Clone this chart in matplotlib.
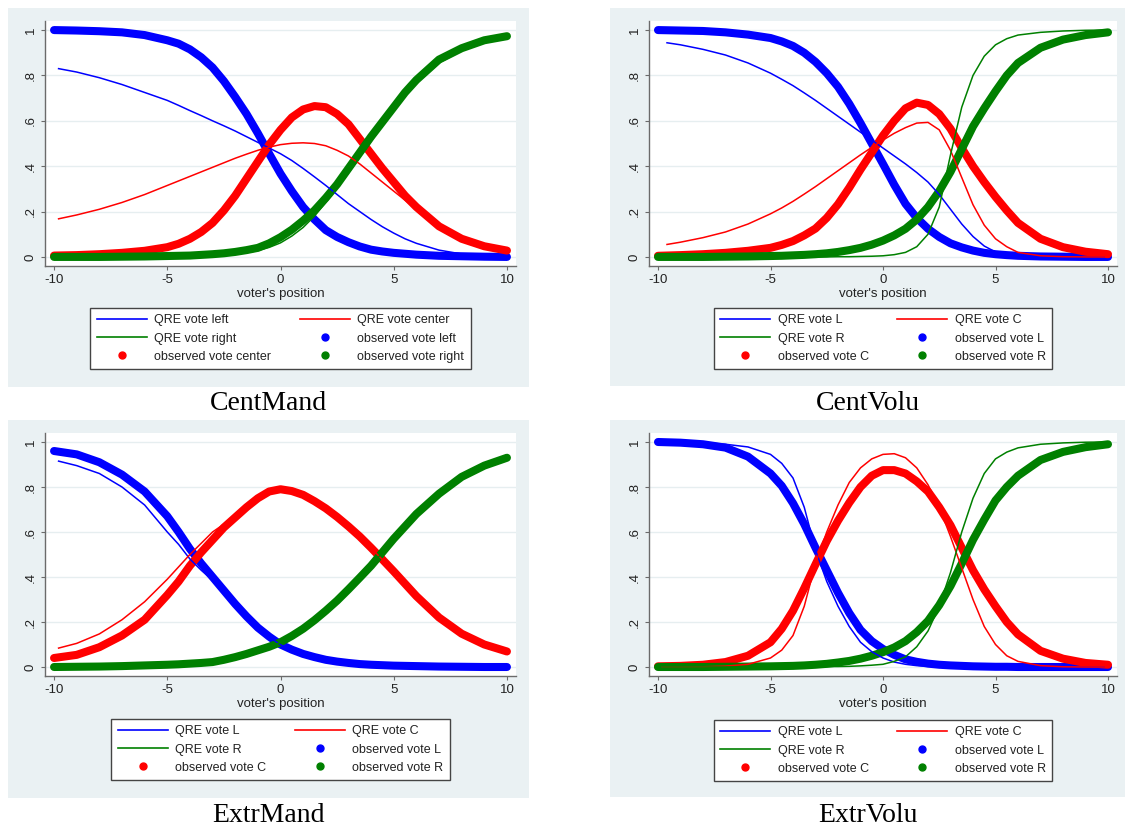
import matplotlib
matplotlib.use("Agg")
import matplotlib.pyplot as plt
from matplotlib.lines import Line2D
from matplotlib.patches import Rectangle

plt.rcParams['font.family'] = ['Liberation Sans', 'DejaVu Sans']

# ---------------- data ----------------
X_OBS = [-10, -9, -8, -7, -6, -5, -4.5, -4, -3.5, -3, -2.5, -2, -1.5, -1, -0.5, 0,
         0.5, 1, 1.5, 2, 2.5, 3, 3.5, 4, 4.5, 5, 5.5, 6, 7, 8, 9, 10]
X_QRE_A = [-9.8, -9, -8, -7, -6, -5, -4.5, -4, -3.5, -3, -2.5, -2, -1.5, -1, -0.5, 0,
           0.5, 1, 1.5, 2, 2.5, 3, 3.5, 4, 4.5, 5, 5.5, 6, 7, 8, 9, 9.8]
X_QRE_B = [-9.6, -9, -8, -7, -6, -5, -4.5, -4, -3.5, -3, -2.5, -2, -1.5, -1, -0.5, 0,
           0.5, 1, 1.5, 2, 2.5, 3, 3.5, 4, 4.5, 5, 5.5, 6, 7, 8, 9, 9.8]

TITLES = ["CentMand", "CentVolu", "ExtrMand", "ExtrVolu"]
LABELS_LONG = ["QRE vote left", "QRE vote center", "QRE vote right",
               "observed vote left", "observed vote center", "observed vote right"]
LABELS_SHORT = ["QRE vote L", "QRE vote C", "QRE vote R",
                "observed vote L", "observed vote C", "observed vote R"]
Y_TICKS = [0, 0.2, 0.4, 0.6, 0.8, 1]
Y_TICK_LABELS = ["0", ".2", ".4", ".6", ".8", "1"]
X_TICKS = [-10, -5, 0, 5, 10]
X_TICK_LABELS = ["-10", "-5", "0", "5", "10"]

# CentMand
CM_OBS_L = [1.0, 0.998, 0.995, 0.99, 0.978, 0.955, 0.94, 0.915, 0.88, 0.835, 0.775, 0.705, 0.63, 0.545, 0.455, 0.367,
            0.29, 0.22, 0.165, 0.118, 0.088, 0.065, 0.046, 0.032, 0.024, 0.018, 0.014, 0.01, 0.005, 0.003, 0.001, 0.0]
CM_OBS_C = [0.006, 0.008, 0.012, 0.018, 0.027, 0.043, 0.058, 0.08, 0.11, 0.15, 0.205, 0.27, 0.345, 0.42, 0.495, 0.56,
            0.615, 0.65, 0.665, 0.66, 0.63, 0.585, 0.52, 0.455, 0.39, 0.33, 0.27, 0.22, 0.135, 0.08, 0.047, 0.028]
CM_OBS_R = [0.0, 0.0, 0.0, 0.001, 0.002, 0.004, 0.005, 0.006, 0.009, 0.012, 0.016, 0.022, 0.03, 0.04, 0.06, 0.087,
            0.12, 0.16, 0.205, 0.26, 0.32, 0.39, 0.46, 0.53, 0.595, 0.66, 0.725, 0.78, 0.87, 0.92, 0.955, 0.973]
CM_QRE_L = [0.83, 0.815, 0.79, 0.76, 0.725, 0.69, 0.668, 0.645, 0.623, 0.6, 0.578, 0.555, 0.53, 0.505, 0.48, 0.455,
            0.425, 0.39, 0.353, 0.315, 0.275, 0.235, 0.2, 0.165, 0.133, 0.105, 0.08, 0.06, 0.03, 0.013, 0.005, 0.002]
CM_QRE_C = [0.168, 0.185, 0.21, 0.24, 0.275, 0.315, 0.335, 0.355, 0.375, 0.395, 0.415, 0.435, 0.453, 0.47, 0.484, 0.495,
            0.501, 0.503, 0.5, 0.49, 0.47, 0.445, 0.41, 0.37, 0.33, 0.29, 0.25, 0.21, 0.14, 0.085, 0.05, 0.03]
CM_QRE_R = [0.0, 0.0, 0.001, 0.002, 0.003, 0.004, 0.005, 0.006, 0.007, 0.008, 0.01, 0.013, 0.019, 0.028, 0.042, 0.062,
            0.092, 0.13, 0.18, 0.24, 0.305, 0.37, 0.44, 0.51, 0.58, 0.645, 0.71, 0.765, 0.855, 0.91, 0.948, 0.968]

# CentVolu
CV_OBS_L = [1.0, 0.998, 0.996, 0.99, 0.98, 0.965, 0.95, 0.93, 0.9, 0.86, 0.81, 0.75, 0.675, 0.59, 0.5, 0.41,
            0.318, 0.234, 0.172, 0.124, 0.088, 0.06, 0.042, 0.028, 0.018, 0.012, 0.008, 0.005, 0.002, 0.001, 0.0, 0.0]
CV_OBS_C = [0.005, 0.008, 0.012, 0.018, 0.027, 0.04, 0.053, 0.07, 0.095, 0.125, 0.172, 0.232, 0.305, 0.385, 0.46, 0.535,
            0.6, 0.655, 0.68, 0.67, 0.63, 0.565, 0.48, 0.4, 0.33, 0.265, 0.205, 0.15, 0.08, 0.043, 0.023, 0.012]
CV_OBS_R = [0.0, 0.0, 0.0, 0.001, 0.002, 0.004, 0.005, 0.007, 0.009, 0.012, 0.016, 0.022, 0.03, 0.04, 0.054, 0.072,
            0.095, 0.124, 0.165, 0.22, 0.29, 0.375, 0.475, 0.575, 0.655, 0.73, 0.8, 0.855, 0.922, 0.958, 0.978, 0.99]
CV_QRE_L = [0.944, 0.935, 0.915, 0.89, 0.855, 0.81, 0.783, 0.755, 0.723, 0.69, 0.655, 0.62, 0.585, 0.55, 0.515, 0.48,
            0.445, 0.41, 0.372, 0.33, 0.275, 0.21, 0.145, 0.09, 0.048, 0.022, 0.012, 0.006, 0.001, 0.0, 0.0, 0.0]
CV_QRE_C = [0.055, 0.065, 0.085, 0.11, 0.145, 0.19, 0.216, 0.245, 0.277, 0.31, 0.345, 0.38, 0.415, 0.45, 0.483, 0.515,
            0.545, 0.57, 0.59, 0.593, 0.56, 0.47, 0.35, 0.23, 0.14, 0.08, 0.045, 0.02, 0.005, 0.001, 0.0, 0.0]
CV_QRE_R = [0.0, 0.0, 0.0, 0.0, 0.0, 0.0, 0.0, 0.0, 0.0, 0.0, 0.0, 0.001, 0.001, 0.002, 0.003, 0.005,
            0.01, 0.02, 0.045, 0.1, 0.22, 0.45, 0.66, 0.8, 0.885, 0.935, 0.962, 0.978, 0.99, 0.996, 0.999, 1.0]

# ExtrMand
EM_OBS_L = [0.96, 0.945, 0.91, 0.855, 0.78, 0.67, 0.6, 0.525, 0.46, 0.4, 0.34, 0.28, 0.225, 0.175, 0.135, 0.1,
            0.077, 0.058, 0.044, 0.032, 0.024, 0.018, 0.013, 0.01, 0.008, 0.006, 0.005, 0.004, 0.002, 0.001, 0.0, 0.0]
EM_OBS_C = [0.04, 0.054, 0.088, 0.14, 0.21, 0.32, 0.38, 0.45, 0.51, 0.565, 0.62, 0.665, 0.71, 0.75, 0.78, 0.79,
            0.782, 0.765, 0.737, 0.705, 0.667, 0.625, 0.58, 0.53, 0.478, 0.425, 0.37, 0.315, 0.22, 0.148, 0.1, 0.069]
EM_OBS_R = [0.0, 0.001, 0.002, 0.004, 0.007, 0.01, 0.012, 0.015, 0.018, 0.022, 0.032, 0.044, 0.058, 0.074, 0.09, 0.11,
            0.138, 0.17, 0.208, 0.25, 0.295, 0.345, 0.397, 0.45, 0.51, 0.57, 0.625, 0.68, 0.77, 0.845, 0.895, 0.93]
EM_QRE_L = [0.915, 0.895, 0.86, 0.8, 0.72, 0.6, 0.545, 0.48, 0.43, 0.385, 0.33, 0.275, 0.222, 0.173, 0.133, 0.099,
            0.076, 0.057, 0.043, 0.031, 0.023, 0.017, 0.012, 0.009, 0.007, 0.005, 0.004, 0.003, 0.001, 0.0, 0.0, 0.0]
EM_QRE_C = [0.084, 0.105, 0.147, 0.21, 0.29, 0.39, 0.445, 0.5, 0.55, 0.6, 0.635, 0.67, 0.712, 0.75, 0.779, 0.789,
            0.781, 0.764, 0.736, 0.704, 0.666, 0.624, 0.579, 0.529, 0.477, 0.424, 0.369, 0.314, 0.219, 0.147, 0.099, 0.07]
EM_QRE_R = [0.0, 0.001, 0.002, 0.004, 0.006, 0.009, 0.011, 0.014, 0.017, 0.021, 0.031, 0.043, 0.057, 0.073, 0.089, 0.109,
            0.137, 0.169, 0.207, 0.249, 0.294, 0.344, 0.396, 0.449, 0.509, 0.569, 0.624, 0.679, 0.769, 0.844, 0.894, 0.929]

# ExtrVolu
EV_OBS_L = [1.0, 0.997, 0.99, 0.975, 0.935, 0.86, 0.805, 0.728, 0.635, 0.53, 0.43, 0.33, 0.24, 0.165, 0.115, 0.08,
            0.054, 0.034, 0.023, 0.015, 0.01, 0.007, 0.005, 0.003, 0.002, 0.001, 0.001, 0.0, 0.0, 0.0, 0.0, 0.0]
EV_OBS_C = [0.003, 0.005, 0.01, 0.022, 0.05, 0.11, 0.17, 0.25, 0.35, 0.456, 0.56, 0.65, 0.73, 0.8, 0.85, 0.875,
            0.875, 0.86, 0.825, 0.78, 0.71, 0.63, 0.53, 0.43, 0.345, 0.27, 0.2, 0.145, 0.072, 0.037, 0.018, 0.01]
EV_OBS_R = [0.0, 0.0, 0.0, 0.001, 0.002, 0.003, 0.004, 0.005, 0.007, 0.01, 0.014, 0.02, 0.027, 0.037, 0.05, 0.066,
            0.087, 0.115, 0.155, 0.205, 0.275, 0.36, 0.46, 0.565, 0.655, 0.74, 0.8, 0.85, 0.92, 0.956, 0.977, 0.99]
EV_QRE_L = [1.0, 0.999, 0.997, 0.99, 0.978, 0.945, 0.905, 0.84, 0.71, 0.52, 0.38, 0.27, 0.18, 0.11, 0.068, 0.04,
            0.022, 0.012, 0.006, 0.003, 0.002, 0.001, 0.0, 0.0, 0.0, 0.0, 0.0, 0.0, 0.0, 0.0, 0.0, 0.0]
EV_QRE_C = [0.0, 0.0, 0.001, 0.004, 0.012, 0.04, 0.075, 0.14, 0.27, 0.46, 0.6, 0.72, 0.82, 0.885, 0.925, 0.945,
            0.948, 0.93, 0.885, 0.81, 0.71, 0.58, 0.44, 0.3, 0.18, 0.1, 0.05, 0.025, 0.006, 0.001, 0.0, 0.0]
EV_QRE_R = [0.0, 0.0, 0.0, 0.0, 0.0, 0.0, 0.0, 0.0, 0.001, 0.001, 0.002, 0.002, 0.003, 0.005, 0.008, 0.012,
            0.025, 0.045, 0.09, 0.16, 0.27, 0.42, 0.6, 0.75, 0.86, 0.925, 0.955, 0.974, 0.99, 0.996, 0.999, 1.0]

# ---------------- layout (pixels) ----------------
W, H = 1125, 830
BLUE, RED, GREEN = "#0000FF", "#FF0000", "#008000"
BG = "#EAF1F3"
GRID = "#E6EEF0"

panels = [
    dict(title=TITLES[0], labels=LABELS_LONG, qx=X_QRE_A,
         obs=(CM_OBS_L, CM_OBS_C, CM_OBS_R), qre=(CM_QRE_L, CM_QRE_C, CM_QRE_R),
         bg=(8, 8, 529, 387), ax=(45, 21, 516, 266), leg_top=308, title_y=404),
    dict(title=TITLES[1], labels=LABELS_SHORT, qx=X_QRE_B,
         obs=(CV_OBS_L, CV_OBS_C, CV_OBS_R), qre=(CV_QRE_L, CV_QRE_C, CV_QRE_R),
         bg=(610, 8, 1125, 386), ax=(649, 21, 1117, 266), leg_top=308, title_y=404),
    dict(title=TITLES[2], labels=LABELS_SHORT, qx=X_QRE_A,
         obs=(EM_OBS_L, EM_OBS_C, EM_OBS_R), qre=(EM_QRE_L, EM_QRE_C, EM_QRE_R),
         bg=(8, 420, 529, 798), ax=(45, 433, 516, 676), leg_top=719, title_y=815),
    dict(title=TITLES[3], labels=LABELS_SHORT, qx=X_QRE_A,
         obs=(EV_OBS_L, EV_OBS_C, EV_OBS_R), qre=(EV_QRE_L, EV_QRE_C, EV_QRE_R),
         bg=(610, 420, 1125, 797), ax=(649, 433, 1117, 676), leg_top=720, title_y=815),
]

fig = plt.figure(figsize=(W / 100, H / 100), dpi=100)
fig.patch.set_facecolor("white")

def fx(x):
    return x / W

def fy(y):
    return 1 - y / H

colors = (BLUE, RED, GREEN)
for p in panels:
    x0, y0, x1, y1 = p["bg"]
    fig.patches.append(Rectangle((fx(x0), fy(y1)), fx(x1 - x0), (y1 - y0) / H,
                                 transform=fig.transFigure, facecolor=BG,
                                 edgecolor="none", zorder=-10))
    l, t, r, b = p["ax"]
    ax = fig.add_axes([fx(l), fy(b), fx(r - l), (b - t) / H])
    ax.set_zorder(1)
    ax.set_facecolor("white")
    ax.set_xlim(-10.4, 10.4)
    ax.set_ylim(-0.04, 1.04)
    for s in ("top", "right"):
        ax.spines[s].set_visible(False)
    for s in ("left", "bottom"):
        ax.spines[s].set_color("#6b6b6b")
        ax.spines[s].set_linewidth(1.0)
    for yv in Y_TICKS:
        ax.axhline(yv, color=GRID, lw=1.0, zorder=0.5)
    ax.set_yticks(Y_TICKS)
    ax.set_yticklabels(Y_TICK_LABELS, rotation=90, va="center")
    ax.set_xticks(X_TICKS)
    ax.set_xticklabels(X_TICK_LABELS)
    ax.tick_params(axis="both", length=3, width=0.8, color="#6b6b6b",
                   labelsize=9.5, labelcolor="#222222", pad=3)
    ax.set_xlabel("voter's position", fontsize=9.5, color="#222222", labelpad=1)

    # observed (thick)
    for i, ys in enumerate(p["obs"]):
        ax.plot(X_OBS, ys, color=colors[i], lw=5.8, solid_capstyle="round",
                solid_joinstyle="round", zorder=3 + i)
    # QRE (thin)
    for i, ys in enumerate(p["qre"]):
        ax.plot(p["qx"], ys, color=colors[i], lw=1.1, zorder=7)

    labels = p["labels"]
    hq = [Line2D([], [], color=c, lw=1.2) for c in colors]
    ho = [Line2D([], [], color=c, lw=0, marker="o", markersize=5) for c in colors]
    handles = [hq[0], hq[2], ho[1], hq[1], ho[0], ho[2]]
    labs = [labels[0], labels[2], labels[4], labels[1], labels[3], labels[5]]
    cx = (l + r) / 2
    leg = fig.legend(handles, labs, ncol=2, loc="upper center",
                     bbox_to_anchor=(fx(cx), fy(p["leg_top"])),
                     bbox_transform=fig.transFigure, fontsize=9,
                     frameon=True, fancybox=False, framealpha=1,
                     edgecolor="#444444", handlelength=4.0, handletextpad=0.6,
                     columnspacing=2.3, labelspacing=0.5, borderpad=0.5,
                     borderaxespad=0)
    leg.get_frame().set_linewidth(1.0)
    leg.set_zorder(5)
    for txt in leg.get_texts():
        txt.set_color("#222222")

    fig.text(fx((x0 + x1) / 2), fy(p["title_y"]), p["title"],
             family=["Liberation Serif", "DejaVu Serif"], fontsize=20,
             ha="center", va="center", color="black")

fig.savefig("out.png", dpi=100, facecolor="white")
